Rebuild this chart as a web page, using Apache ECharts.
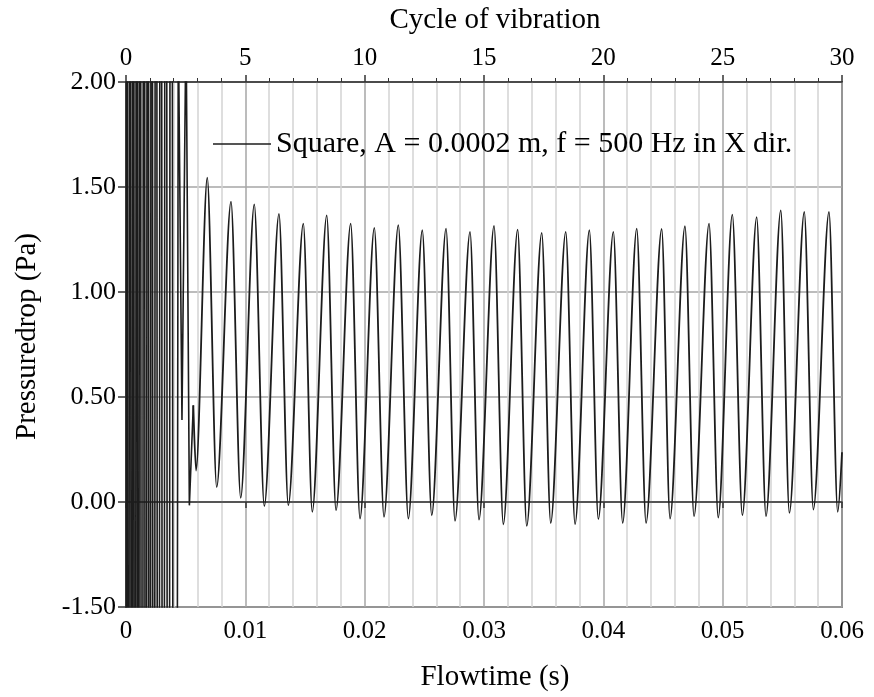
<!DOCTYPE html>
<html>
<head>
<meta charset="utf-8">
<title>Pressure drop vs flow time</title>
<script src="https://cdn.jsdelivr.net/npm/echarts@6/dist/echarts.min.js"></script>
<style>
  html, body { margin: 0; padding: 0; background: #fff; }
  #chart { width: 874px; height: 697px; }
</style>
</head>
<body>
<div id="chart"></div>
<script>
// y tick labels as printed on the figure (lowest one reads -1.50)
const yTickLabels = ['-1.50', '0.00', '0.50', '1.00', '1.50', '2.00'];
const seriesName = 'Square, A = 0.0002 m, f = 500 Hz in X dir.';

// start-up transient, values outside the frame get clipped
const startTime = [0, 0.00006, 0.00019, 0.00034, 0.00048, 0.00061, 0.00075, 0.0009, 0.00103,
  0.00117, 0.00134, 0.00151, 0.00166, 0.00182, 0.00199, 0.00215, 0.00233, 0.00251, 0.00271,
  0.00291, 0.00312, 0.00333, 0.00355, 0.00377, 0.00406, 0.00438, 0.00469, 0.00503, 0.00531, 0.00564];
const startDrop = [-10, 10, -10, 10, -10, 10, -10, 10, -10,
  10, -10, 10, -10, 10, -10, 10, -10, 10, -10,
  10, -10, 10, -10, 10, -10, 2.3, 0.39, 2.3, -0.016, 0.46];

// settled oscillation: crests and troughs
const crestTime = [0.00681, 0.0088, 0.01075, 0.01282, 0.01486, 0.01682, 0.01883, 0.02081, 0.02282,
  0.02483, 0.02682, 0.02883, 0.03084, 0.03282, 0.03484, 0.03685, 0.03883, 0.04084, 0.0428,
  0.04489, 0.04684, 0.04886, 0.05081, 0.05285, 0.05487, 0.05684, 0.05891];
const crestDrop = [1.544, 1.43, 1.417, 1.372, 1.326, 1.365, 1.326, 1.305, 1.318,
  1.294, 1.302, 1.286, 1.315, 1.297, 1.282, 1.286, 1.294, 1.286, 1.302,
  1.30, 1.313, 1.326, 1.368, 1.357, 1.389, 1.381, 1.381];
const troughTime = [0.00587, 0.0076, 0.00961, 0.01159, 0.0136, 0.01561, 0.0176, 0.01961, 0.02162,
  0.02366, 0.02562, 0.02757, 0.02958, 0.03162, 0.03358, 0.03559, 0.03763, 0.03958, 0.04162,
  0.04358, 0.04559, 0.0476, 0.04963, 0.05165, 0.05363, 0.05559, 0.0576, 0.05964];
const troughDrop = [0.15, 0.071, 0.02, -0.02, -0.016, -0.047, -0.04, -0.079, -0.071,
  -0.079, -0.063, -0.09, -0.084, -0.106, -0.114, -0.1, -0.106, -0.082, -0.1,
  -0.1, -0.079, -0.068, -0.074, -0.063, -0.068, -0.052, -0.036, -0.047];
const endTime = [0.06];
const endDrop = [0.237];

const startData = startTime.map((t, i) => [t, startDrop[i]]);
let steadyData = [startData[startData.length - 1]];
crestTime.forEach((t, i) => steadyData.push([t, crestDrop[i]]));
troughTime.forEach((t, i) => steadyData.push([t, troughDrop[i]]));
endTime.forEach((t, i) => steadyData.push([t, endDrop[i]]));
steadyData.sort((a, b) => a[0] - b[0]);

const font = 'Liberation Serif';
const ink = '#1c1c1c';
const chart = echarts.init(document.getElementById('chart'));

chart.setOption({
  animation: false,
  textStyle: { fontFamily: font, color: '#000' },
  grid: {
    left: 126, right: 32, top: 82, bottom: 87,
    show: true, borderColor: '#333', borderWidth: 1.5
  },
  legend: {
    data: [seriesName],
    left: 208, top: 124,
    icon: 'rect', itemWidth: 58, itemHeight: 1.5, itemGap: 6,
    textStyle: { fontFamily: font, fontSize: 30, color: '#000' }
  },
  xAxis: [
    {
      type: 'value', position: 'bottom',
      min: 0, max: 0.06, interval: 0.01,
      name: 'Flowtime (s)', nameLocation: 'middle', nameGap: 56,
      nameTextStyle: { fontFamily: font, fontSize: 29, color: '#000', padding: [0, 0, 0, 22] },
      axisLine: { lineStyle: { color: '#333', width: 1.5 } },
      axisTick: { length: 6, lineStyle: { color: '#333', width: 1.5 } },
      axisLabel: { fontFamily: font, fontSize: 25, color: '#000', margin: 12 },
      minorTick: { show: false, splitNumber: 5 },
      splitLine: { show: true, lineStyle: { color: '#a6a6a6', width: 1.5 } },
      minorSplitLine: { show: true, lineStyle: { color: '#d4d4d4', width: 1.5 } }
    },
    {
      type: 'value', position: 'top',
      min: 0, max: 30, interval: 5,
      name: 'Cycle of vibration', nameLocation: 'middle', nameGap: 47,
      nameTextStyle: { fontFamily: font, fontSize: 29, color: '#000', padding: [0, 0, 0, 22] },
      axisLine: { lineStyle: { color: '#333', width: 1.5 } },
      axisTick: { length: 7, lineStyle: { color: '#333', width: 1.5 } },
      minorTick: { show: true, splitNumber: 5, length: 4, lineStyle: { color: '#333', width: 1 } },
      axisLabel: { fontFamily: font, fontSize: 25, color: '#000', margin: 11 },
      splitLine: { show: false }
    }
  ],
  yAxis: {
    type: 'value',
    min: -0.5, max: 2, interval: 0.5,
    name: 'Pressuredrop (Pa)', nameLocation: 'middle', nameGap: 84,
    nameTextStyle: { fontFamily: font, fontSize: 29, color: '#000', padding: [0, 0, 0, 16] },
    axisLine: { show: true, lineStyle: { color: '#333', width: 1.5 } },
    axisTick: { show: true, length: 8, lineStyle: { color: '#333', width: 1.5 } },
    axisLabel: {
      fontFamily: font, fontSize: 26, color: '#000', margin: 10,
      formatter: v => yTickLabels[Math.round((v + 0.5) / 0.5)]
    },
    splitLine: { show: true, lineStyle: { color: '#a6a6a6', width: 1.5 } }
  },
  series: [
    {
      name: seriesName, type: 'line', xAxisIndex: 0,
      data: startData, symbol: 'none', clip: true,
      itemStyle: { color: ink },
      lineStyle: { color: ink, width: 1.6 }
    },
    {
      name: seriesName, type: 'line', xAxisIndex: 0,
      data: steadyData, symbol: 'none', clip: true,
      smooth: 0.3, smoothMonotone: 'x',
      itemStyle: { color: ink },
      lineStyle: { color: ink, width: 1.8 }
    }
  ]
});
</script>
</body>
</html>
